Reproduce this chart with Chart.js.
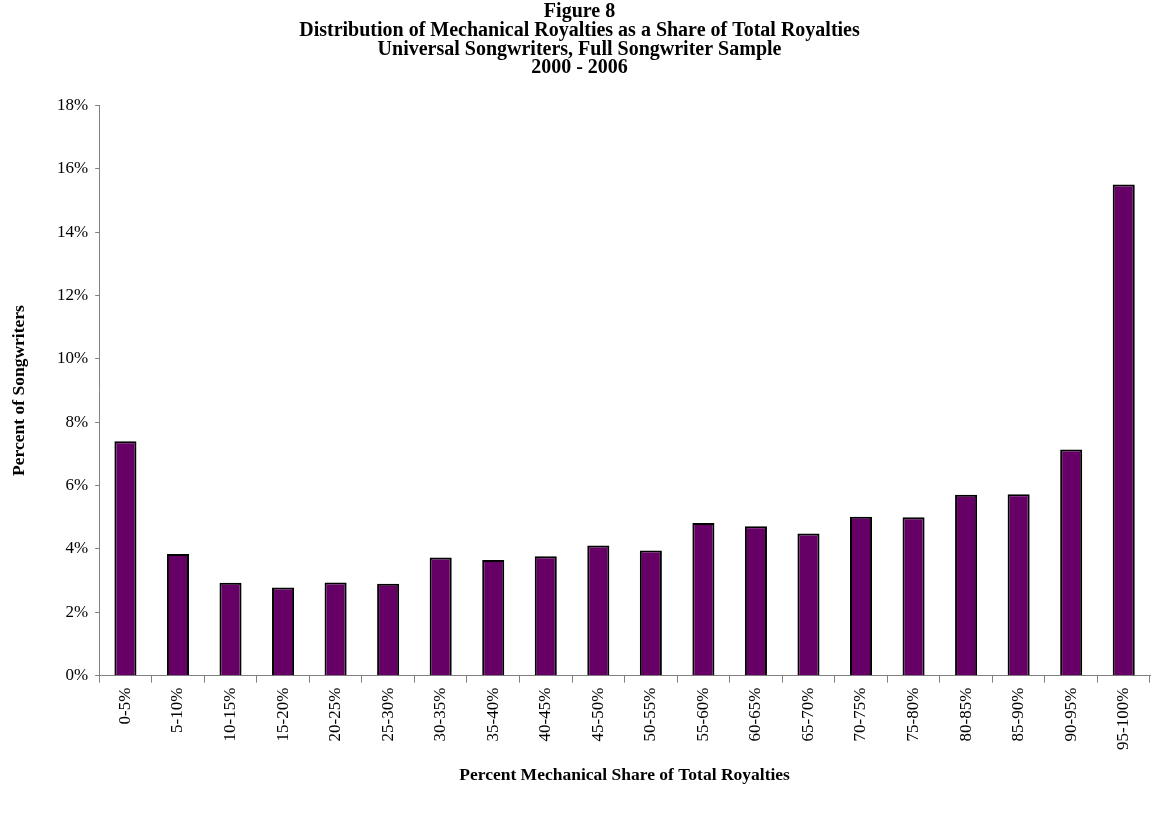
<!DOCTYPE html>
<html>
<head>
<meta charset="utf-8">
<script src="https://cdn.jsdelivr.net/npm/chart.js@4/dist/chart.umd.min.js"></script>
<style>
  html, body { margin: 0; padding: 0; background: #fff; }
  #wrap { width: 1151px; height: 815px; }
</style>
</head>
<body>
<div id="wrap"><canvas id="royaltiesChart"></canvas></div>
<script>
// categories: mechanical share of total royalties
const shareBins = ['0-5%', '5-10%', '10-15%', '15-20%', '20-25%', '25-30%', '30-35%',
  '35-40%', '40-45%', '45-50%', '50-55%', '55-60%', '60-65%', '65-70%', '70-75%',
  '75-80%', '80-85%', '85-90%', '90-95%', '95-100%'];

// percent of songwriters in each bin
const songwriterPct = [7.40, 3.84, 2.93, 2.78, 2.94, 2.90, 3.73, 3.65, 3.77, 4.11,
  3.95, 4.82, 4.72, 4.49, 5.02, 5.00, 5.71, 5.73, 7.14, 15.50];

const yTicks = [0, 2, 4, 6, 8, 10, 12, 14, 16, 18];

const serif = '"Liberation Serif", "Times New Roman", serif';
Chart.defaults.font.family = serif;
Chart.defaults.color = '#000';

new Chart(document.getElementById('royaltiesChart'), {
  type: 'bar',
  data: {
    labels: shareBins,
    datasets: [{
      label: 'Percent of Songwriters',
      data: songwriterPct,
      backgroundColor: '#660066',
      borderColor: '#000',
      borderWidth: 2,
      barPercentage: 0.42,
      categoryPercentage: 1.0
    }]
  },
  options: {
    responsive: true,
    maintainAspectRatio: false,
    animation: false,
    layout: { padding: { top: 3, left: 9, right: 1, bottom: 29 } },
    plugins: {
      legend: { display: false },
      tooltip: { enabled: false },
      title: {
        display: true,
        text: ['Figure 8',
          'Distribution of Mechanical Royalties as a Share of Total Royalties',
          'Universal Songwriters, Full Songwriter Sample',
          '2000 - 2006'],
        font: { size: 20, weight: 'bold', lineHeight: 0.93 },
        padding: { top: 0, bottom: 28 }
      }
    },
    scales: {
      x: {
        grid: { display: true, drawOnChartArea: false, offset: true, tickLength: 7, color: '#808080' },
        border: { color: '#808080', width: 1 },
        ticks: { minRotation: 90, maxRotation: 90, font: { size: 17 }, padding: 5 },
        title: {
          display: true,
          text: 'Percent Mechanical Share of Total Royalties',
          font: { size: 17.5, weight: 'bold' },
          padding: { top: 10, bottom: 0 }
        }
      },
      y: {
        min: 0,
        max: 18,
        afterBuildTicks: axis => { axis.ticks = yTicks.map(v => ({ value: v })); },
        grid: { display: true, drawOnChartArea: false, tickLength: 4, color: '#808080' },
        border: { color: '#808080', width: 1 },
        ticks: { callback: v => v + '%', font: { size: 17 }, padding: 7 },
        title: {
          display: true,
          text: 'Percent of Songwriters',
          font: { size: 17.5, weight: 'bold' },
          padding: { top: 0, bottom: 20 }
        }
      }
    }
  }
});
</script>
</body>
</html>
